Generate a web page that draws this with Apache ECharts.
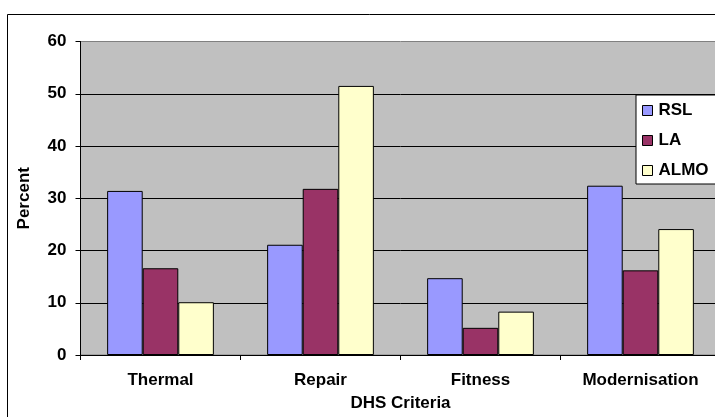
<!DOCTYPE html>
<html>
<head>
<meta charset="utf-8">
<script src="https://cdn.jsdelivr.net/npm/echarts@6/dist/echarts.min.js"></script>
<style>
  html, body { margin: 0; padding: 0; background: #fff; overflow: hidden; }
  #chart { width: 730px; height: 417px; }
</style>
</head>
<body>
<div id="chart"></div>
<script>
// DHS criteria failed, by landlord type (percent)
var categories = ['Thermal', 'Repair', 'Fitness', 'Modernisation'];
var seriesNames = ['RSL', 'LA', 'ALMO'];
var rslValues = [31.4, 21.1, 14.7, 32.4];
var laValues = [16.6, 31.8, 5.2, 16.2];
var almoValues = [10.1, 51.5, 8.3, 24.1];
var yTicks = [0, 10, 20, 30, 40, 50, 60];

var colors = ['#9999ff', '#993366', '#ffffcc'];
var font = '"Liberation Sans", Arial, sans-serif';

var chart = echarts.init(document.getElementById('chart'), null, { renderer: 'canvas' });

function barSeries(name, data, color) {
  return {
    name: name,
    type: 'bar',
    data: data,
    barGap: '0%',
    barCategoryGap: '33.3%',
    itemStyle: { color: color, borderColor: '#000', borderWidth: 1 }
  };
}

chart.setOption({
  animation: false,
  backgroundColor: '#ffffff',
  textStyle: { fontFamily: font },
  graphic: [{
    type: 'rect',
    shape: { x: 7.5, y: 14.5, width: 800, height: 500 },
    style: { fill: 'none', stroke: '#000', lineWidth: 1 },
    z: -1
  }],
  grid: {
    left: 80.5, right: 9.5, top: 41.5, bottom: 59.5,
    show: true,
    backgroundColor: '#c0c0c0',
    borderColor: '#808080',
    borderWidth: 1
  },
  legend: {
    orient: 'vertical',
    left: 636, top: 95,
    data: seriesNames,
    itemWidth: 10, itemHeight: 10,
    itemGap: 13,
    padding: [7, 20, 5, 6],
    backgroundColor: '#ffffff',
    borderColor: '#000', borderWidth: 1,
    icon: 'rect',
    itemStyle: { borderColor: '#000', borderWidth: 1 },
    textStyle: { fontFamily: font, fontWeight: 'bold', fontSize: 17, color: '#000', padding: [0, 0, 0, 1] }
  },
  xAxis: {
    type: 'category',
    data: categories,
    name: 'DHS Criteria',
    nameLocation: 'middle',
    nameGap: 40,
    nameTextStyle: { fontFamily: font, fontWeight: 'bold', fontSize: 17, color: '#000' },
    axisLine: { lineStyle: { color: '#000', width: 1 } },
    axisTick: { show: true, length: 5, inside: false, lineStyle: { color: '#000' } },
    axisLabel: { margin: 17, fontFamily: font, fontWeight: 'bold', fontSize: 17, color: '#000' },
    splitLine: { show: false }
  },
  yAxis: {
    type: 'value',
    min: yTicks[0], max: yTicks[yTicks.length - 1], interval: 10,
    name: 'Percent',
    nameLocation: 'middle',
    nameGap: 48,
    nameRotate: 90,
    nameTextStyle: { fontFamily: font, fontWeight: 'bold', fontSize: 17, color: '#000' },
    axisLine: { show: true, lineStyle: { color: '#000', width: 1 } },
    axisTick: { show: true, length: 5, lineStyle: { color: '#000' } },
    axisLabel: { margin: 14, fontFamily: font, fontWeight: 'bold', fontSize: 17, color: '#000' },
    splitLine: { show: true, showMaxLine: false, lineStyle: { color: '#000', width: 1 } }
  },
  series: [
    barSeries(seriesNames[0], rslValues, colors[0]),
    barSeries(seriesNames[1], laValues, colors[1]),
    barSeries(seriesNames[2], almoValues, colors[2])
  ]
});
</script>
</body>
</html>
